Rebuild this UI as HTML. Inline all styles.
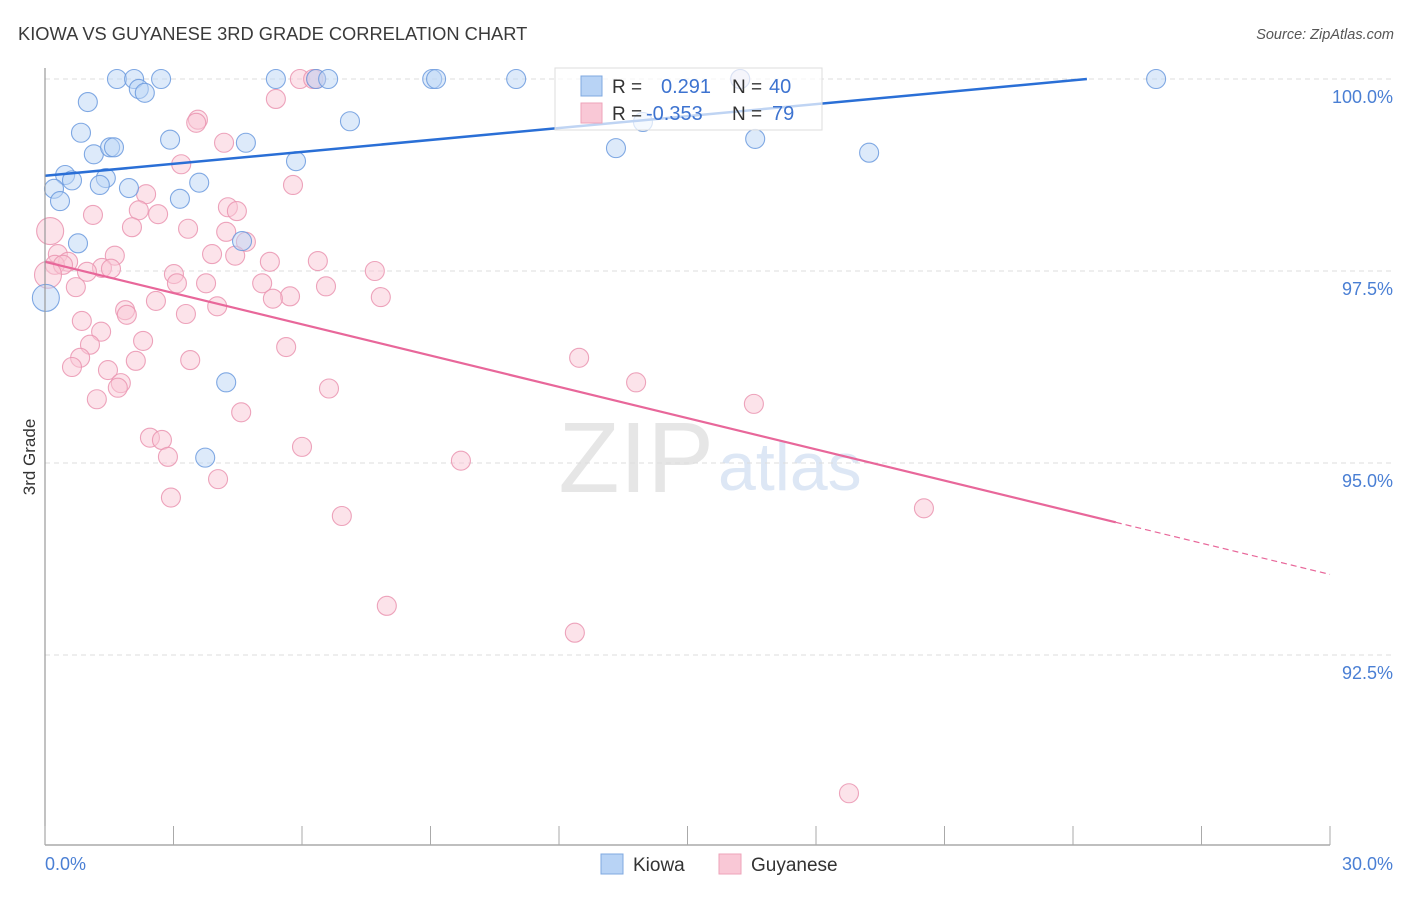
<!DOCTYPE html>
<html><head><meta charset="utf-8"><style>
body{margin:0;background:#fff;font-family:"Liberation Sans",sans-serif}
svg text{font-family:"Liberation Sans",sans-serif}
</style></head><body>
<svg id="c" width="1406" height="892" xmlns="http://www.w3.org/2000/svg">
<text x="18" y="40" font-size="18.3" fill="#3a3a3a">KIOWA VS GUYANESE 3RD GRADE CORRELATION CHART</text>
<text x="1394" y="39" font-size="14.5" fill="#555" font-style="italic" text-anchor="end">Source: ZipAtlas.com</text>
<text x="35" y="457" font-size="17" fill="#333" transform="rotate(-90 35 457)" text-anchor="middle">3rd Grade</text>
<text x="714" y="492" font-size="100" fill="#e6e6e6" text-anchor="end" font-family="Liberation Serif">ZIP</text>
<text x="718" y="490" font-size="68" fill="#dde7f5">atlas</text>
<g id="grid"></g><g id="pts"></g><g id="trend"></g>
<line x1="45" y1="68" x2="45" y2="845" stroke="#999" stroke-width="1.2"/>
<line x1="45" y1="845" x2="1330" y2="845" stroke="#999" stroke-width="1.2"/>
<g id="xt"></g>
<text x="45" y="870" font-size="18" fill="#4a7fd4">0.0%</text>
<text x="1393" y="870" font-size="18" fill="#4a7fd4" text-anchor="end">30.0%</text>
<g>
<rect x="555" y="68" width="267" height="62" fill="#fff" fill-opacity="0.7" stroke="#ddd"/>
<rect x="581" y="76" width="21" height="20" fill="#b8d3f5" stroke="#7fa8e0"/>
<rect x="581" y="103" width="21" height="20" fill="#f9c8d6" stroke="#eea3b9"/>
<text x="612" y="93" font-size="19" fill="#333">R =</text>
<text x="661" y="93" font-size="20" fill="#3d73d0">0.291</text>
<text x="732" y="93" font-size="19" fill="#333">N =</text>
<text x="769" y="93" font-size="20" fill="#3d73d0">40</text>
<text x="612" y="120" font-size="19" fill="#333">R =</text>
<text x="646" y="120" font-size="20" fill="#3d73d0">-0.353</text>
<text x="732" y="120" font-size="19" fill="#333">N =</text>
<text x="772" y="120" font-size="20" fill="#3d73d0">79</text>
</g>
<rect x="601" y="854" width="22" height="20" fill="#b8d3f5" stroke="#7fa8e0"/>
<text x="633" y="871" font-size="19" fill="#333">Kiowa</text>
<rect x="719" y="854" width="22" height="20" fill="#f9c8d6" stroke="#eea3b9"/>
<text x="751" y="871" font-size="19" fill="#333">Guyanese</text>
</svg>
<script>
const yTicks=[100,97.5,95,92.5];
const yTickLabels=["100.0%","97.5%","95.0%","92.5%"];
const kiowaX=[1.68,2.08,2.71,5.39,6.33,6.61,9.04,9.13,11.0,25.94,16.23,2.19,2.33,1.00,0.84,2.92,7.12,1.14,1.52,1.61,4.69,5.86,13.33,16.58,19.24,13.96,0.47,0.63,1.42,1.28,1.96,3.60,0.21,0.35,3.15,0.77,4.60,4.23,3.74,0.02];
const kiowaY=[100,100,100,100,100,100,100,100,100,100,100,99.87,99.82,99.70,99.30,99.21,99.45,99.02,99.11,99.11,99.17,98.93,99.10,99.22,99.04,99.44,98.75,98.68,98.71,98.62,98.58,98.65,98.57,98.41,98.44,97.86,97.89,96.05,95.07,97.15];
const guyX=[5.95,6.26,6.33,16.23,5.39,3.57,3.53,4.18,3.18,5.79,2.36,4.27,4.48,2.19,2.64,1.12,2.03,3.34,0.12,4.23,4.69,3.90,4.44,1.63,0.30,0.54,0.23,0.42,1.33,1.54,0.98,3.01,5.25,6.37,7.70,5.07,3.08,3.76,0.72,6.56,5.72,5.32,2.59,7.84,1.87,1.91,4.02,3.29,0.86,1.31,2.29,1.05,5.63,0.82,3.39,2.12,0.63,12.47,1.47,1.77,1.70,6.63,13.80,1.21,4.58,16.55,2.45,2.73,6.00,2.87,9.71,4.04,2.94,6.93,20.52,7.98,12.37,18.77,0.07];
const guyY=[100,100,100,100,99.74,99.47,99.43,99.17,98.89,98.62,98.50,98.33,98.28,98.29,98.24,98.23,98.07,98.05,98.02,98.01,97.88,97.72,97.70,97.70,97.72,97.62,97.58,97.58,97.54,97.53,97.49,97.46,97.62,97.63,97.50,97.34,97.34,97.34,97.29,97.30,97.17,97.14,97.11,97.16,96.99,96.93,97.04,96.94,96.85,96.71,96.59,96.54,96.51,96.37,96.34,96.33,96.25,96.37,96.21,96.04,95.98,95.97,96.05,95.83,95.66,95.77,95.33,95.30,95.21,95.08,95.03,94.79,94.55,94.31,94.41,93.14,92.79,90.70,97.45];
const kiowaTrend=[98.74,0.0518];
const guyTrend=[97.62,-0.1357];
const NS="http://www.w3.org/2000/svg";
const sx=v=>45+v/30*1285, sy=v=>79+(100-v)*76.8;
function mk(t,a,p){const e=document.createElementNS(NS,t);for(const k in a)e.setAttribute(k,a[k]);document.getElementById(p).appendChild(e);return e;}
yTicks.forEach((t,i)=>{
 const l=mk('line',{x1:45,x2:1394,y1:sy(t),y2:sy(t),stroke:'#ddd','stroke-dasharray':'5,4'},'grid');
 
 
 const tx=mk('text',{x:1393,y:sy(t)+24,'font-size':18,fill:'#4a7fd4','text-anchor':'end'},'grid');
 tx.textContent=yTickLabels[i];
 
 
});
for(let i=0;i<=10;i++){
 const l=mk('line',{x1:sx(i*3),x2:sx(i*3),y1:826,y2:845,stroke:'#aaa'},'xt');
 
 
}
function pts(X,Y,fill,stroke,name){
 X.forEach((x,i)=>{
  const big=(x<0.15&&(i===X.length-1||Y[i]===98.02));
  const c=mk('circle',{cx:sx(x),cy:sy(Y[i]),r:big?13.5:9.5,fill:fill,'fill-opacity':0.5,stroke:stroke,'stroke-width':1.1,'stroke-opacity':0.85},'pts');
  
  
 });
}
pts(guyX,guyY,'#f9c8d6','#ea94b0','guyanese-point');
pts(kiowaX,kiowaY,'#bcd5f5','#6b9ade','kiowa-point');
const kEnd=(100-kiowaTrend[0])/kiowaTrend[1];
const kl=mk('line',{x1:sx(0),y1:sy(kiowaTrend[0]),x2:sx(kEnd),y2:sy(100),stroke:'#2a6fd6','stroke-width':2.5},'trend');


const g=x=>guyTrend[0]+guyTrend[1]*x;
const gl=mk('line',{x1:sx(0),y1:sy(g(0)),x2:sx(25),y2:sy(g(25)),stroke:'#e8679a','stroke-width':2.2},'trend');


const gd=mk('line',{x1:sx(25),y1:sy(g(25)),x2:sx(30),y2:sy(g(30)),stroke:'#e8679a','stroke-width':1.2,'stroke-dasharray':'6,4'},'trend');


</script>
</body></html>
